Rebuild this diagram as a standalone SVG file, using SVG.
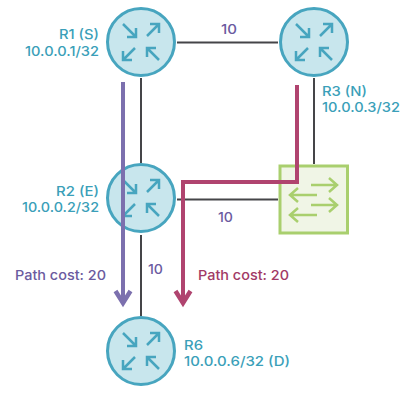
<svg xmlns="http://www.w3.org/2000/svg" xmlns:xlink="http://www.w3.org/1999/xlink" width="415" height="401" viewBox="0 0 415 401">
<style>
text{font-family:"Inter","DejaVu Sans",sans-serif;font-weight:500;font-size:13.500px}
.t{fill:#3b9fb9}
.p{fill:#6b5b9f}
.r{fill:#a23a66}
.link{stroke:#454548;stroke-width:2;fill:none}
.c{fill:#c8e6ed;stroke:#47a5bf;stroke-width:3}
.ra{stroke:#47a5bf;stroke-width:2.500;fill:none}
.sw{fill:#f0f5e6;stroke:#a9cf6e;stroke-width:3}
.sa{stroke:#a9cf6e;stroke-width:2.500;fill:none}
</style>
<defs>
<g id="router">
<circle class="c" r="33.500"/>
<path class="ra" d="M-18-18L-5-5M-5-14V-5H-14M6-6L18-18M9-18H18V-9M-6 6L-18 18M-18 9V18H-9M18 18L6 6M6 15V6H15"/>
</g>
</defs>
<g id="connectors">
<path class="link" d="M177 42.500H278"/>
<path class="link" d="M141 78V163"/>
<path class="link" d="M314 78V164"/>
<path class="link" d="M177 199.500H278"/>
<path class="link" d="M141 235V316"/>
</g>
<g id="R1"><use href="#router" x="141" y="42"/>
<text class="t" x="99" y="39" text-anchor="end" textLength="40" lengthAdjust="spacingAndGlyphs">R1 (S)</text>
<text class="t" x="99" y="56" text-anchor="end" textLength="74" lengthAdjust="spacingAndGlyphs">10.0.0.1/32</text></g>
<g id="R3"><use href="#router" x="314" y="42"/>
<text class="t" x="322" y="96" textLength="45" lengthAdjust="spacingAndGlyphs">R3 (N)</text>
<text class="t" x="322" y="112" textLength="78" lengthAdjust="spacingAndGlyphs">10.0.0.3/32</text></g>
<g id="R2"><use href="#router" x="141" y="198"/>
<text class="t" x="99" y="196" text-anchor="end" textLength="43" lengthAdjust="spacingAndGlyphs">R2 (E)</text>
<text class="t" x="99" y="212" text-anchor="end" textLength="77" lengthAdjust="spacingAndGlyphs">10.0.0.2/32</text></g>
<g id="R6"><use href="#router" x="141" y="351"/>
<text class="t" x="184" y="350" textLength="19" lengthAdjust="spacingAndGlyphs">R6</text>
<text class="t" x="184" y="366" textLength="106" lengthAdjust="spacingAndGlyphs">10.0.0.6/32 (D)</text></g>
<g id="switch">
<rect class="sw" x="280" y="166" width="67.500" height="67"/>
<path class="sa" d="M311 185H336M329 178L337 185L329 192M317 195H291M298 188L290 195L298 202M311 205H336M329 198L337 205L329 212M317 215H291M298 208L290 215L298 222"/>
</g>
<g id="paths">
<path d="M123 82V303" fill="none" stroke="#7c70ae" stroke-width="4"/>
<path d="M115.500 291L123 303L130.500 291" fill="none" stroke="#7c70ae" stroke-width="4.500"/>
<path d="M297 85V182H183V303" fill="none" stroke="#b0446f" stroke-width="4"/>
<path d="M175.500 291L183 303L190.500 291" fill="none" stroke="#b0446f" stroke-width="4.500"/>
</g>
<g id="labels">
<text class="p" x="221" y="34" textLength="16" lengthAdjust="spacingAndGlyphs">10</text>
<text class="p" x="218" y="222" textLength="15" lengthAdjust="spacingAndGlyphs">10</text>
<text class="p" x="148" y="274" textLength="15" lengthAdjust="spacingAndGlyphs">10</text>
<text class="p" x="15" y="280" textLength="91" lengthAdjust="spacingAndGlyphs">Path cost: 20</text>
<text class="r" x="198" y="280" textLength="91" lengthAdjust="spacingAndGlyphs">Path cost: 20</text>
</g>
</svg>
